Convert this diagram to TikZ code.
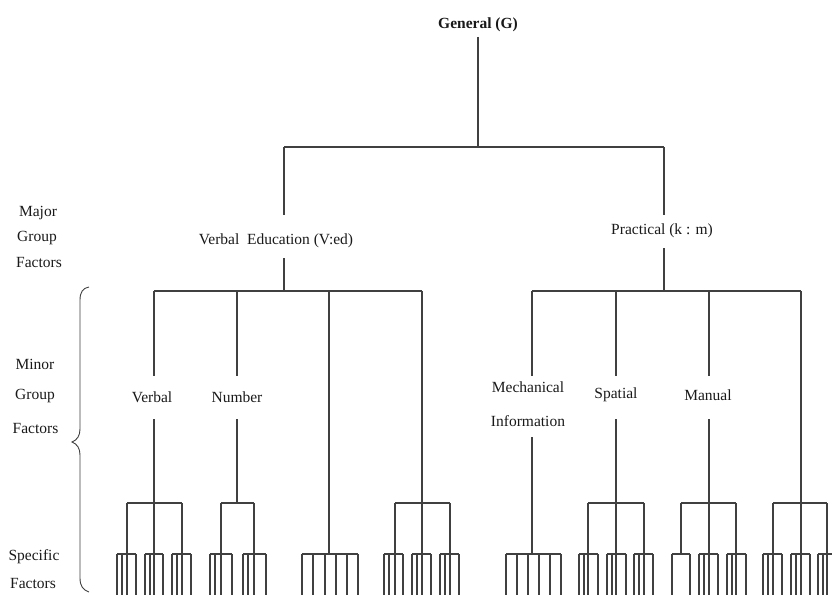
\documentclass[tikz,border=0pt]{standalone}
\usepackage{fontspec}
\setmainfont{Liberation Serif}
\begin{document}
\begin{tikzpicture}[x=1pt,y=-1pt,
  conn/.style={draw=black!75, line width=1.25pt},
  thinline/.style={draw=black!75, line width=0.9pt},
  lab/.style={inner sep=0pt, font=\fontsize{15.5}{18.6}\selectfont, text=black!90},
  side/.style={lab, anchor=center}]
\useasboundingbox (0,0) rectangle (832,594);
\fill[white] (0,0) rectangle (832,594);
\clip (0,0) rectangle (832,594);

\newcommand{\subc}[2]{%
  \draw[conn] (#1,554) -- (#2,554);
  \pgfmathsetmacro{\xa}{#1+5}%
  \draw[conn] (#1,554) -- (#1,596);
  \draw[conn] (\xa,554) -- (\xa,596);
  \draw[conn] (#2,554) -- (#2,596);}
\newcommand{\combsix}[3]{%
  \draw[conn] (#1,554) -- (#2,554);
  \foreach \xc in {#3} {\draw[conn] (\xc,554) -- (\xc,596);}}

% ---- side labels
\node[side] (maj1) at (38,213) {Major};
\node[side] (maj2) at (37,238) {Group};
\node[side] (maj3) at (39,262) {Factors};
\node[side] (min1) at (35,364) {Minor};
\node[side] (min2) at (35,396) {Group};
\node[side] (min3) at (35.5,428) {Factors};
\node[side] (spe1) at (34,557) {Specific};
\node[side] (spe2) at (33,583) {Factors};
\draw[thinline] (89,287) .. controls (83,288) and (80,292) .. (80,300) -- (80,429)
  .. controls (80,436) and (77,440) .. (72,442)
  .. controls (77,444) and (80,448) .. (80,455) -- (80,578)
  .. controls (80,586) and (83,590) .. (89,592);

% ---- top
\node[lab, font=\fontsize{15.5}{18.6}\selectfont\bfseries] (G) at (478,25) {General (G)};
\coordinate (g1) at (478,37);
\coordinate (g2) at (478,147);
\draw[conn] (g1) -- (g2);
\coordinate (tL) at (284,147);
\coordinate (tR) at (664,147);
\draw[conn] (tL) -- (tR);

% ---- major group factors
\coordinate (veA) at (284,215);
\coordinate (veB) at (284,258);
\coordinate (lbarM) at (284,291);
\node[lab] (VE) at (276,241) {Verbal\ \ Education (V:ed)};
\draw[conn] (tL) -- (veA);
\draw[conn] (veB) -- (lbarM);
\coordinate (prA) at (664,215);
\coordinate (prB) at (664,248);
\coordinate (rbarM) at (664,291);
\node[lab] (PR) at (662,231) {Practical (k : m)};
\draw[conn] (tR) -- (prA);
\draw[conn] (prB) -- (rbarM);

% ---- bars of minor factors
\coordinate (lb1) at (154,291);
\coordinate (lb2) at (237,291);
\coordinate (lb3) at (329,291);
\coordinate (lb4) at (422,291);
\draw[conn] (lb1) -- (lb4);
\coordinate (rb1) at (532,291);
\coordinate (rb2) at (616,291);
\coordinate (rb3) at (709,291);
\coordinate (rb4) at (801,291);
\draw[conn] (rb1) -- (rb4);

% ---- minor group labels
\node[lab] (verbal) at (152,397.5) {Verbal};
\node[lab] (number) at (237,397.5) {Number};
\node[lab, align=center] (mech) at (528,404) {Mechanical\\[15.4pt]Information};
\node[lab] (spatial) at (616,395) {Spatial};
\node[lab] (manual) at (708,395) {Manual};

\draw[conn] (lb1) -- (154,376); \draw[conn] (154,419) -- (154,596);
\draw[conn] (lb2) -- (237,376); \draw[conn] (237,419) -- (237,503);
\draw[conn] (lb3) -- (329,554);
\draw[conn] (lb4) -- (422,596);
\draw[conn] (rb1) -- (532,376); \draw[conn] (532,437) -- (532,554);
\draw[conn] (rb2) -- (616,376); \draw[conn] (616,419) -- (616,596);
\draw[conn] (rb3) -- (709,376); \draw[conn] (709,419) -- (709,596);
\draw[conn] (rb4) -- (801,596);

% ---- bars at 503
\draw[conn] (127,503) -- (182,503);
\draw[conn] (127,503) -- (127,596); \draw[conn] (182,503) -- (182,596);
\draw[conn] (221,503) -- (254,503);
\draw[conn] (221,503) -- (221,596); \draw[conn] (254,503) -- (254,596);
\draw[conn] (395,503) -- (450,503);
\draw[conn] (395,503) -- (395,596); \draw[conn] (450,503) -- (450,596);
\draw[conn] (588,503) -- (644,503);
\draw[conn] (588,503) -- (588,596); \draw[conn] (644,503) -- (644,596);
\draw[conn] (681,503) -- (736,503);
\draw[conn] (681,503) -- (681,554); \draw[conn] (736,503) -- (736,596);
\draw[conn] (773,503) -- (827,503);
\draw[conn] (773,503) -- (773,596); \draw[conn] (827,503) -- (827,596);

% ---- specific factors
\subc{117}{136} \subc{145}{163} \subc{172}{191}
\subc{210}{232} \subc{243}{266}
\combsix{302}{358}{302,313,325,336,347,358}
\subc{384}{403} \subc{412}{431} \subc{440}{459}
\combsix{506}{561}{506,517,528,539,550,561}
\subc{579}{598} \subc{607}{626} \subc{634}{653}
\draw[conn] (672,554) -- (690,554);
\draw[conn] (672,554) -- (672,596); \draw[conn] (690,554) -- (690,596);
\subc{699}{718} \subc{727}{746}
\subc{763}{782} \subc{791}{810} \subc{818}{837}
\end{tikzpicture}
\end{document}
